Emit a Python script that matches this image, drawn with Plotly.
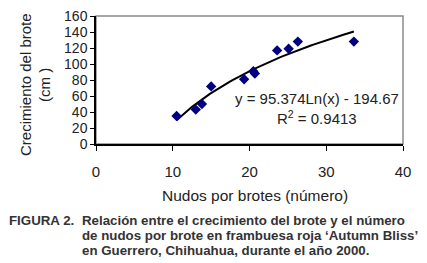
import numpy as np
import plotly.graph_objects as go

# Data
nudos = [10.5, 13.0, 13.8, 15.0, 19.3, 20.5, 20.7, 23.6, 25.1, 26.3, 33.6]
crecimiento = [35, 43, 50, 72, 81, 91, 88, 117, 119, 128, 128]

# Trend line equation shown on chart
coef_a = 95.374
coef_b = -194.67
equation_text = "y = 95.374Ln(x) - 194.67"
r2_text = "R<sup>2</sup> = 0.9413"

x_ticks = [0, 10, 20, 30, 40]
y_ticks = [0, 20, 40, 60, 80, 100, 120, 140, 160]

W, H = 427, 263
OFF = 8  # page body margin offset
PL, PT, PW, PH = 96, 16, 307, 128  # target plot box in window pixels
L, T = PL - OFF, PT - OFF
R, B = W - L - PW, H - T - PH

def px(x):
    return (x - PL) / PW

def py(y):
    return (PT + PH - y) / PH

xt = np.linspace(min(nudos), max(nudos), 100)
yt = coef_a * np.log(xt) + coef_b

FONT = "Liberation Sans, Arial, sans-serif"
TXT = "#222222"
CAP = "#333333"

fig = go.Figure()
fig.add_trace(go.Scatter(x=xt, y=yt, mode="lines",
                         line=dict(color="black", width=2), hoverinfo="skip"))
fig.add_trace(go.Scatter(x=nudos, y=crecimiento, mode="markers",
                         marker=dict(symbol="diamond", color="#000080", size=8)))

# gray plot border
fig.add_shape(type="rect", xref="x domain", yref="y domain", x0=0, x1=1, y0=0, y1=1,
              line=dict(color="#8a8a8a", width=1.5), layer="below")

def note(x, y, text, size, xanchor="center", angle=0, color=TXT):
    return dict(x=px(x), y=py(y), xref="paper", yref="paper", text=text,
                xanchor=xanchor, yanchor="middle", textangle=angle, showarrow=False,
                font=dict(size=size, color=color, family=FONT))

ann = [
    note(317, 98, equation_text, 15),
    note(317, 117, r2_text, 15),
    note(25, 85, "Crecimiento del brote", 15, angle=-90),
    note(44, 85, "(cm )", 15, angle=-90),
    note(255, 195, "Nudos por brotes (número)", 15.5),
    note(7, 220, "<b>FIGURA 2.</b>", 13.3, xanchor="left", color=CAP),
]
for i, line in enumerate(["Relación entre el crecimiento del brote y el número",
                          "de nudos por brote en frambuesa roja ‘Autumn Bliss’",
                          "en Guerrero, Chihuahua, durante el año 2000."]):
    ann.append(note(80, 220 + 15 * i, "<b>" + line + "</b>", 13.3, xanchor="left", color=CAP))

fig.update_layout(
    template="none",
    width=W, height=H, margin=dict(l=L, r=R, t=T, b=B, pad=0, autoexpand=False),
    paper_bgcolor="white", plot_bgcolor="white", showlegend=False,
    annotations=ann,
    font=dict(family=FONT, size=15, color=TXT),
    xaxis=dict(range=[0, 40], tickvals=x_ticks, showgrid=False, zeroline=False,
               automargin=False, ticklabeloverflow="allow",
               showline=True, linecolor="black", linewidth=1.5,
               ticks="outside", ticklen=5, tickcolor="black", ticklabelstandoff=8,
               tickfont=dict(size=15, color=TXT)),
    yaxis=dict(range=[0, 160], tickvals=y_ticks, showgrid=False, zeroline=False,
               automargin=False, ticklabeloverflow="allow",
               showline=True, linecolor="black", linewidth=1.5,
               ticks="outside", ticklen=4, tickcolor="black",
               tickfont=dict(size=14, color=TXT)),
)

fig.write_html("out.html")
